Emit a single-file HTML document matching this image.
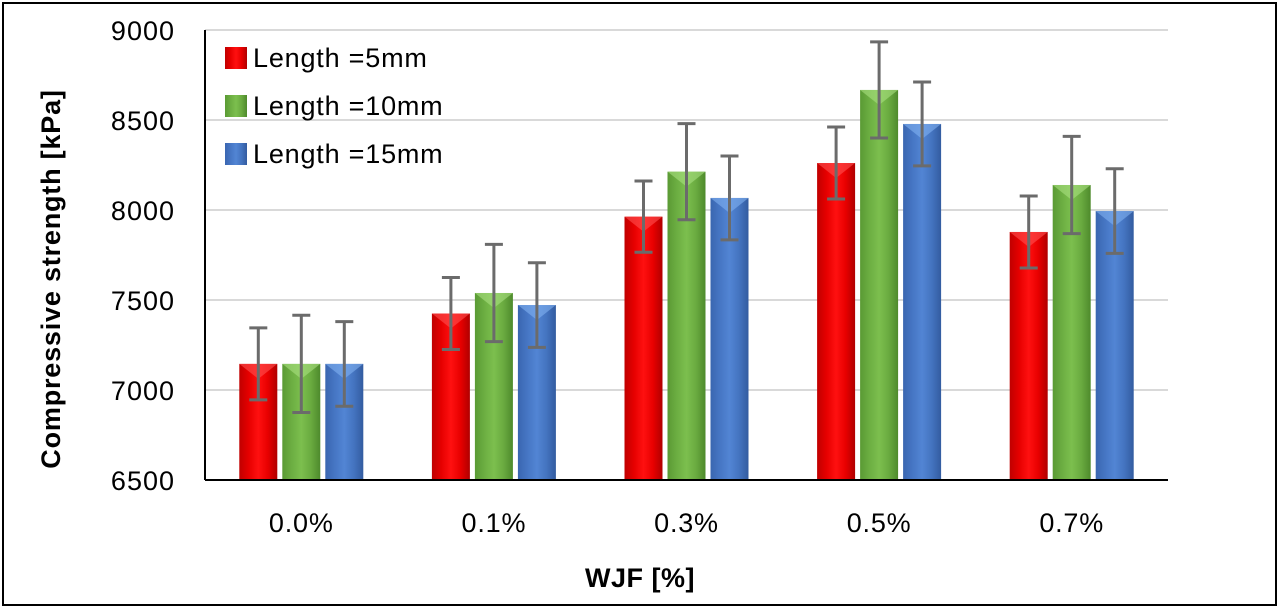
<!DOCTYPE html>
<html><head><meta charset="utf-8"><style>
html,body{margin:0;padding:0;background:#fff;}
svg{display:block;font-family:"Liberation Sans",Arial,sans-serif;}
</style></head><body>
<svg id="chart" width="1280" height="609" viewBox="0 0 1280 609">
<defs>
<linearGradient id="gr" x1="0" x2="1"><stop offset="0" stop-color="#c00000"/><stop offset="0.25" stop-color="#e60000"/><stop offset="0.5" stop-color="#ff1010"/><stop offset="0.75" stop-color="#e80000"/><stop offset="1" stop-color="#b00000"/></linearGradient>
<linearGradient id="gg" x1="0" x2="1"><stop offset="0" stop-color="#5a9a34"/><stop offset="0.25" stop-color="#6cae42"/><stop offset="0.5" stop-color="#7cbf4e"/><stop offset="0.75" stop-color="#6aab40"/><stop offset="1" stop-color="#4e8a2c"/></linearGradient>
<linearGradient id="gb" x1="0" x2="1"><stop offset="0" stop-color="#3a66b0"/><stop offset="0.25" stop-color="#4676c4"/><stop offset="0.5" stop-color="#5285d4"/><stop offset="0.75" stop-color="#4474c0"/><stop offset="1" stop-color="#335ca0"/></linearGradient>
</defs>
<rect x="3" y="3" width="1273" height="602" fill="#fff" stroke="#000" stroke-width="2"/>
<g id="grid"></g>
<g id="bars"></g>
<g id="axes"></g>
<text x="640" y="587" text-anchor="middle" font-size="27" font-weight="bold" letter-spacing="0.5">WJF [%]</text>
<text transform="translate(60,279) rotate(-90)" text-anchor="middle" font-size="27" font-weight="bold" letter-spacing="0.8">Compressive strength [kPa]</text>
<g font-size="27" letter-spacing="0.8">
<g><rect x="225" y="47" width="22" height="22" fill="url(#gr)"/><text x="253" y="67">Length =5mm</text></g>
<g><rect x="225" y="95" width="22" height="22" fill="url(#gg)"/><text x="253" y="115">Length =10mm</text></g>
<g><rect x="225" y="143" width="22" height="22" fill="url(#gb)"/><text x="253" y="163">Length =15mm</text></g>
</g>
</svg>
<script>
const categories = ["0.0%","0.1%","0.3%","0.5%","0.7%"];
const seriesNames = ["Length =5mm","Length =10mm","Length =15mm"];
const s5 = [7145,7425,7963,8261,7878];
const s10 = [7145,7539,8213,8667,8139];
const s15 = [7145,7472,8067,8478,7994];
const e5 = [200,200,198,200,200];
const e10 = [270,270,267,267,270];
const e15 = [235,235,233,233,235];
const yTicks = [6500,7000,7500,8000,8500,9000];

const NS="http://www.w3.org/2000/svg";
const x0=205,x1=1168,yTop=30,yBot=480,yMin=6500,yMax=9000;
const y=v=>yBot-(v-yMin)/(yMax-yMin)*(yBot-yTop);
const gw=(x1-x0)/categories.length;
const xc=i=>x0+gw*(i+0.5);
function mk(t,a,p){const e=document.createElementNS(NS,t);for(const k in a)e.setAttribute(k,a[k]);p.appendChild(e);return e;}
const grid=document.getElementById('grid'),bars=document.getElementById('bars'),axes=document.getElementById('axes');
yTicks.forEach(t=>{
  if(t>yMin){const l=mk('line',{x1:x0,x2:x1,y1:y(t),y2:y(t),stroke:'#d9d9d9','stroke-width':2},grid);
  
  }
  const tx=mk('text',{x:175,y:y(t)+10,'text-anchor':'end','font-size':27,'letter-spacing':1},axes);
  tx.textContent=t;
  
  
});
const series=[s5,s10,s15],errs=[e5,e10,e15],fills=['url(#gr)','url(#gg)','url(#gb)'],tops=['#ff5050','#a8e080','#80b0f0'];
const bw=38,gap=5;
categories.forEach((c,i)=>{
  series.forEach((s,k)=>{
    const cx=xc(i)+(k-1)*(bw+gap),bx=cx-bw/2,ty=y(s[i]);
    const r=mk('rect',{x:bx,y:ty,width:bw,height:yBot-ty,fill:fills[k]},bars);
    
    
    const p=mk('polygon',{points:`${bx},${ty} ${bx+bw},${ty} ${cx},${ty+15}`,fill:tops[k],opacity:0.6},bars);
    
    
    const hi=y(s[i]+errs[k][i]),lo=y(s[i]-errs[k][i]);
    const g=mk('g',{stroke:'#6b6b6b','stroke-width':3},bars);
    
    
    mk('line',{x1:cx,x2:cx,y1:hi,y2:lo},g);
    mk('line',{x1:cx-9,x2:cx+9,y1:hi,y2:hi},g);
    mk('line',{x1:cx-9,x2:cx+9,y1:lo,y2:lo},g);
  });
  const tx=mk('text',{x:xc(i),y:532,'text-anchor':'middle','font-size':27,'letter-spacing':0.8},axes);
  tx.textContent=c;
  
  
});
const ya=mk('line',{x1:x0,x2:x0,y1:yTop,y2:yBot,stroke:'#000','stroke-width':2},axes);


const xa=mk('line',{x1:x0,x2:x1,y1:yBot,y2:yBot,stroke:'#000','stroke-width':2},axes);


</script>
</body></html>
